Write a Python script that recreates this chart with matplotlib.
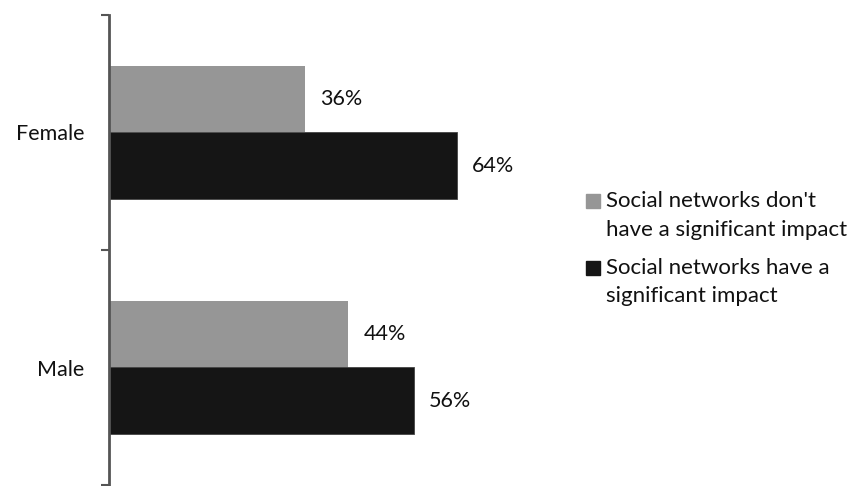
import matplotlib
matplotlib.use("Agg")
import matplotlib.pyplot as plt
from matplotlib.patches import Rectangle
import numpy as np

plt.rcParams["font.family"] = ["Lato", "DejaVu Sans"]

categories = ["Female", "Male"]
no_impact = [36, 44]
impact = [64, 56]
legend_lines = [["Social networks don't", "have a significant impact"],
                ["Social networks have a", "significant impact"]]

GRAY = "#969696"
BLACK = "#151515"
AXIS = "#555555"
FS = 15.5

W, H = 855, 486
fig = plt.figure(figsize=(W / 100, H / 100), dpi=100)
ax = fig.add_axes([109 / W, 1 / H, 435 / W, 470 / H])

y = np.arange(len(categories))
h = 0.285
b1 = ax.barh(y - h / 2, no_impact, height=h, color=GRAY)
b2 = ax.barh(y + h / 2, impact, height=h, color=BLACK, edgecolor="#444444",
             linewidth=0.6)

for bars, vals in [(b1, no_impact), (b2, impact)]:
    for rect, v in zip(bars, vals):
        ax.text(rect.get_width() + 2.8, rect.get_y() + rect.get_height() / 2,
                f"{v}%", va="center", ha="left", fontsize=FS, color="#111111")

ax.set_xlim(0, 80)
ax.set_ylim(1.5, -0.5)
ax.set_yticks(y)
ax.set_yticklabels(categories, fontsize=FS, color="#111111")
ax.set_yticks([-0.5, 0.5, 1.5], minor=True)
ax.tick_params(axis="y", which="major", length=0, pad=18)
ax.tick_params(axis="y", which="minor", length=6, width=1.5, color=AXIS)
ax.set_xticks([])
for s in ["top", "right", "bottom"]:
    ax.spines[s].set_visible(False)
ax.spines["left"].set_color(AXIS)
ax.spines["left"].set_linewidth(2)

# legend drawn by hand so the square sits on the first line
for color, lines, y0 in [(GRAY, legend_lines[0], 201), (BLACK, legend_lines[1], 268)]:
    fig.patches.append(Rectangle((586 / W, 1 - (y0 + 7) / H), 14 / W, 14 / H,
                                 transform=fig.transFigure, color=color))
    for i, line in enumerate(lines):
        fig.text(606 / W, 1 - (y0 + 28.5 * i) / H, line, fontsize=16,
                 va="center", ha="left", color="#111111")

fig.savefig("out.png", dpi=100)
